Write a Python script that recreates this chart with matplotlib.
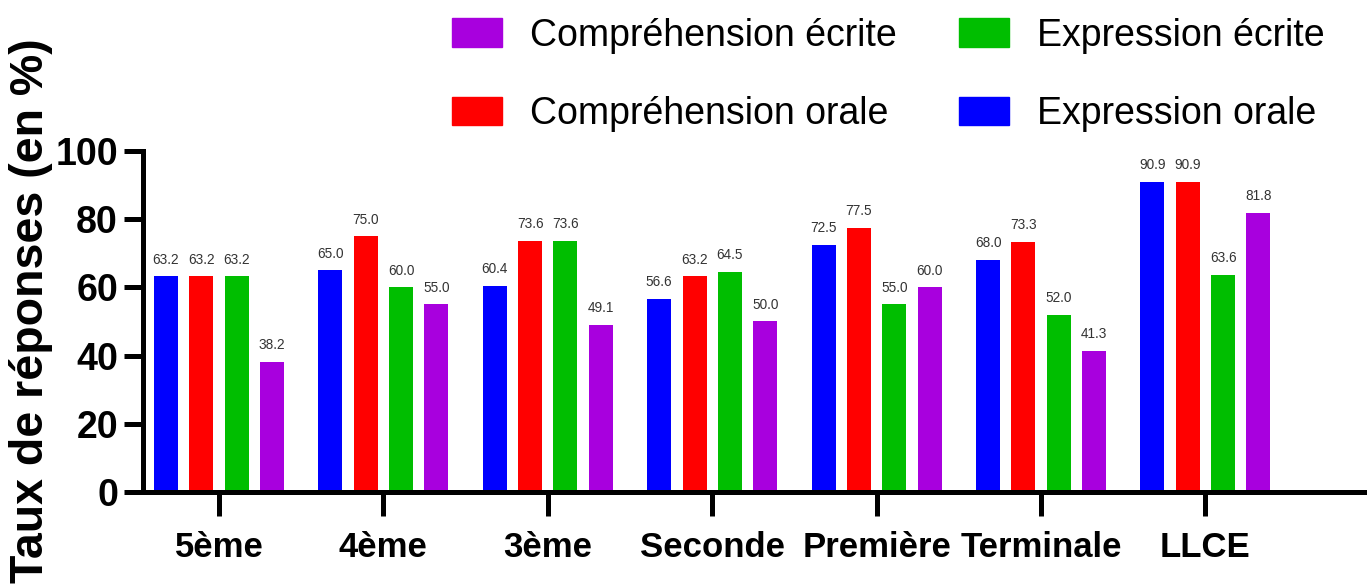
import numpy as np
import matplotlib
matplotlib.use("Agg")
import matplotlib.pyplot as plt
from matplotlib.patches import Patch

# data
niveaux = ["5ème", "4ème", "3ème", "Seconde", "Première", "Terminale", "LLCE"]
expression_orale = [63.2, 65.0, 60.4, 56.6, 72.5, 68.0, 90.9]
comprehension_orale = [63.2, 75.0, 73.6, 63.2, 77.5, 73.3, 90.9]
expression_ecrite = [63.2, 60.0, 73.6, 64.5, 55.0, 52.0, 63.6]
comprehension_ecrite = [38.2, 55.0, 49.1, 50.0, 60.0, 41.3, 81.8]

series = [
    ("Expression orale", expression_orale, "#0000FF"),
    ("Compréhension orale", comprehension_orale, "#FF0000"),
    ("Expression écrite", expression_ecrite, "#00BE00"),
    ("Compréhension écrite", comprehension_ecrite, "#A800DE"),
]

plt.rcParams["font.family"] = ["Liberation Sans", "DejaVu Sans"]

fig = plt.figure(figsize=(13.67, 5.87), dpi=100)
ax = fig.add_axes([0.1046, 0.1618, 0.8975, 0.581])

x = np.arange(len(niveaux))
pitch = 0.215
width = 0.146

for i, (name, vals, color) in enumerate(series):
    pos = x + (i - 1.5) * pitch
    bars = ax.bar(pos, vals, width=width, color=color, label=name)
    for b, v in zip(bars, vals):
        ax.annotate(f"{v:.1f}", (b.get_x() + b.get_width() / 2, v),
                    xytext=(0, 7), textcoords="offset points",
                    ha="center", va="bottom", fontsize=9.8, color="#333333")

ax.set_xlim(-0.462, 7.0)
ax.set_ylim(0, 100)
ax.set_yticks([0, 20, 40, 60, 80, 100])
ax.set_xticks(list(x) + [7])
ax.set_xticklabels(niveaux + [""])

for s in ["top", "right"]:
    ax.spines[s].set_visible(False)
for s in ["left", "bottom"]:
    ax.spines[s].set_linewidth(3.6)
    ax.spines[s].set_capstyle("projecting")

ax.tick_params(axis="y", length=14, width=3.6, pad=4, labelsize=27)
ax.tick_params(axis="x", length=17, width=3.6, pad=11, labelsize=25)
for lab in ax.get_xticklabels() + ax.get_yticklabels():
    lab.set_fontweight("bold")

# y label placed on the figure so it stays inside the picture
fig.text(0.0225, 0.47, "Taux de réponses (en %)", rotation=90,
         ha="center", va="center", fontsize=33.5, fontweight="bold")

# legend: two columns, purple/green on top, red/blue below
handles = [Patch(color=c) for _, _, c in series]
labels = [n for n, _, _ in series]
order = [3, 1, 2, 0]
fig.legend([handles[k] for k in order], [labels[k] for k in order],
           ncol=2, loc="upper left", bbox_to_anchor=(0.3307, 0.97),
           frameon=False, fontsize=27, handlelength=1.33, handleheight=0.8,
           handletextpad=0.75, columnspacing=1.65, labelspacing=1.13,
           borderpad=0, borderaxespad=0)

fig.savefig("out.png", dpi=100)
